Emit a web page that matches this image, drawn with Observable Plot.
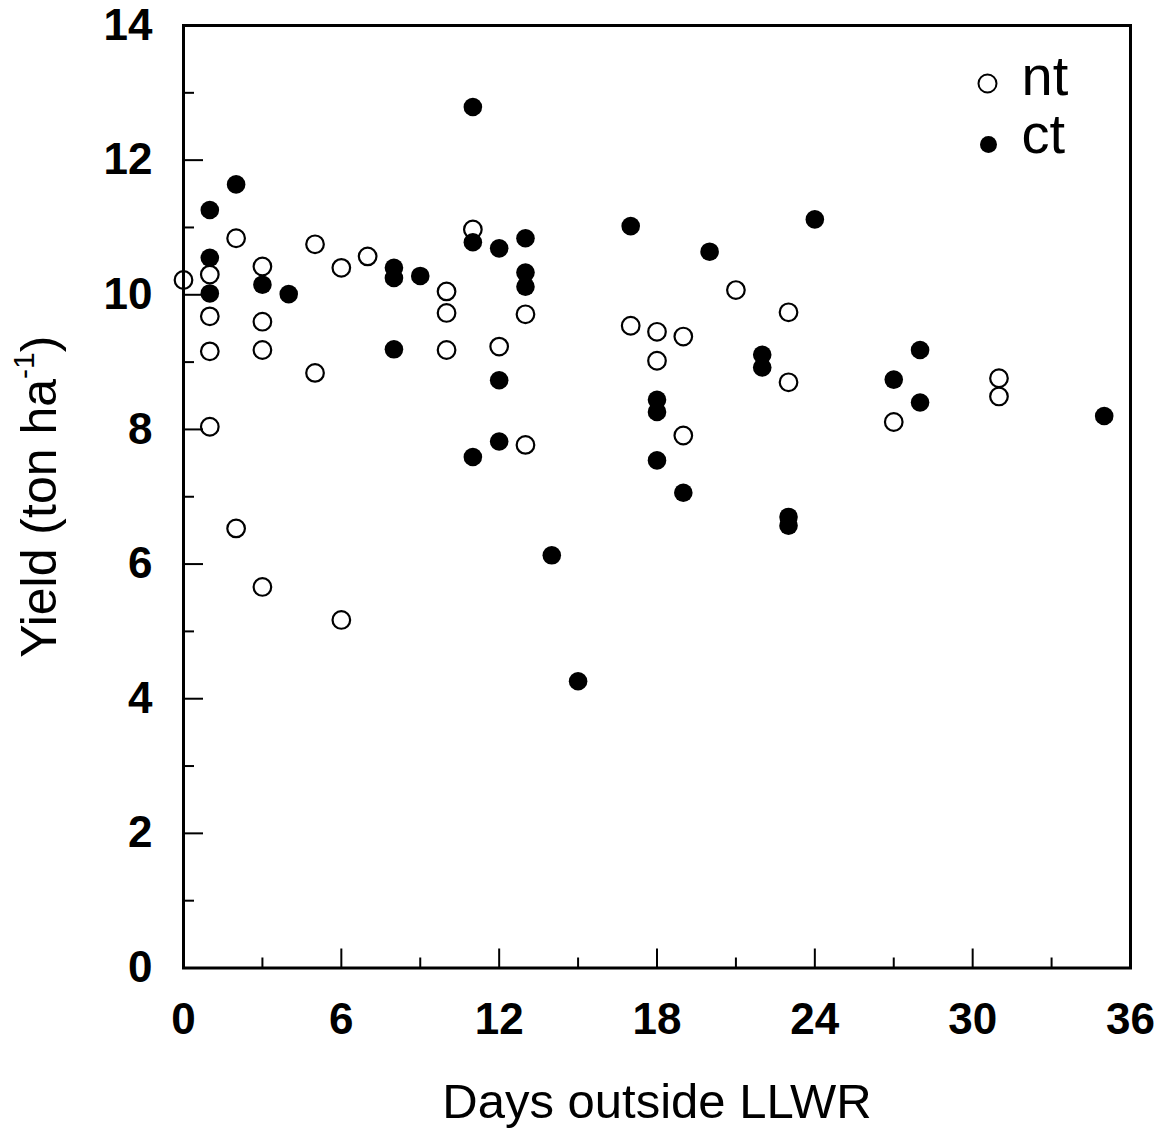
<!DOCTYPE html>
<html>
<head>
<meta charset="utf-8">
<script src="https://cdn.jsdelivr.net/npm/d3@7"></script>
<script src="https://cdn.jsdelivr.net/npm/@observablehq/plot@0.6"></script>
<style>
  html, body { margin: 0; padding: 0; background: #fff; }
  #chart svg { display: block; }
</style>
</head>
<body>
<div id="chart"></div>
<script>
// nt (no-till) — open circles
const ntDays  = [0, 1, 1, 1, 1, 2, 2, 3, 3, 3, 3, 5, 5, 6, 6, 7, 10, 10, 10, 11, 12, 13, 13, 17, 18, 18, 19, 19, 21, 23, 23, 27, 31, 31];
const ntYield = [10.22, 10.30, 9.68, 9.16, 8.04, 10.84, 6.53, 10.42, 9.60, 9.18, 5.66, 10.75, 8.84, 10.40, 5.17, 10.57, 10.05, 9.73, 9.18, 10.97, 9.23, 9.71, 7.77, 9.54, 9.45, 9.02, 9.38, 7.91, 10.07, 9.74, 8.70, 8.11, 8.76, 8.49];
// ct (conventional tillage) — filled circles
const ctDays  = [1, 1, 1, 2, 3, 4, 8, 8, 8, 9, 11, 11, 11, 12, 12, 12, 13, 13, 13, 14, 15, 17, 18, 18, 18, 19, 20, 22, 22, 23, 23, 24, 27, 28, 28, 35];
const ctYield = [11.26, 10.55, 10.02, 11.64, 10.15, 10.01, 10.40, 10.25, 9.19, 10.28, 12.79, 10.78, 7.59, 10.69, 8.73, 7.82, 10.84, 10.33, 10.12, 6.13, 4.26, 11.02, 8.44, 8.26, 7.54, 7.06, 10.64, 9.11, 8.92, 6.70, 6.57, 11.12, 8.74, 9.18, 8.40, 8.20];

const xMajorTicks = [0, 6, 12, 18, 24, 30, 36];
const xMinorTicks = [3, 9, 15, 21, 27, 33];
const yMajorTicks = [0, 2, 4, 6, 8, 10, 12, 14];
const yMinorTicks = [1, 3, 5, 7, 9, 11, 13];
const legendLabels = ["nt", "ct"];

const nt = ntDays.map((d, i) => ({days: d, yield: ntYield[i]}));
const ct = ctDays.map((d, i) => ({days: d, yield: ctYield[i]}));

const W = 1164, H = 1133;
const mL = 183, mR = 34, mT = 25, mB = 165.5;
const plotW = W - mL - mR, plotH = H - mT - mB;
const font = "'Liberation Sans', Arial, Helvetica, sans-serif";

const chart = Plot.plot({
  width: W,
  height: H,
  marginLeft: mL, marginRight: mR, marginTop: mT, marginBottom: mB,
  style: {fontFamily: font, background: "#fff", color: "#000", overflow: "visible"},
  x: {domain: [0, 36]},
  y: {domain: [0, 14]},
  marks: [
    // inward ticks
    Plot.ruleX(xMajorTicks, {x: d => d, stroke: "#000", strokeWidth: 2, insetTop: plotH - 19}),
    Plot.ruleX(xMinorTicks, {x: d => d, stroke: "#000", strokeWidth: 2, insetTop: plotH - 10}),
    Plot.ruleY(yMajorTicks, {y: d => d, stroke: "#000", strokeWidth: 2, insetRight: plotW - 20}),
    Plot.ruleY(yMinorTicks, {y: d => d, stroke: "#000", strokeWidth: 2, insetRight: plotW - 11}),
    Plot.frame({stroke: "#000", strokeWidth: 3}),
    Plot.axisX({
      ticks: xMajorTicks, tickSize: 0, tickPadding: 35,
      fontSize: 44, fontWeight: "bold", fill: "#000",
      label: "Days outside LLWR", labelAnchor: "center", labelOffset: 150, labelArrow: "none"
    }),
    Plot.axisY({
      ticks: yMajorTicks, tickSize: 0, tickPadding: 31,
      fontSize: 44, fontWeight: "bold", fill: "#000",
      label: "Yield (ton ha-1)", labelAnchor: "center", labelOffset: 163, labelArrow: "none"
    }),
    Plot.dot(nt, {x: "days", y: "yield", r: 8.8, stroke: "#000", strokeWidth: 2.2, fill: "none"}),
    Plot.dot(ct, {x: "days", y: "yield", r: 9.3, fill: "#000", stroke: "none"}),
    // legend
    Plot.dot([legendLabels[0]], {frameAnchor: "top-right", dx: -143, dy: 58, r: 9, stroke: "#000", strokeWidth: 2, fill: "none"}),
    Plot.dot([legendLabels[1]], {frameAnchor: "top-right", dx: -142, dy: 119, r: 8.5, fill: "#000"}),
    Plot.text([legendLabels[0]], {text: d => d, frameAnchor: "top-right", dx: -109, dy: 52, textAnchor: "start", lineAnchor: "middle", fontSize: 56, fill: "#000"}),
    Plot.text([legendLabels[1]], {text: d => d, frameAnchor: "top-right", dx: -109, dy: 110, textAnchor: "start", lineAnchor: "middle", fontSize: 56, fill: "#000"})
  ]
});

document.getElementById("chart").appendChild(chart);

// axis title font sizes and superscript on the y label
const svg = d3.select(chart.tagName.toLowerCase() === "svg" ? chart : chart.querySelector("svg"));
svg.selectAll('g[aria-label="x-axis label"] text').attr("font-size", 49).attr("font-weight", "normal");
svg.selectAll('g[aria-label="y-axis label"] text').attr("font-size", 50).attr("font-weight", "normal");
const yl = svg.select('g[aria-label="y-axis label"] text');
if (!yl.empty()) {
  yl.text(null);
  yl.append("tspan").text("Yield (ton ha");
  yl.append("tspan").attr("font-size", 30).attr("dy", "-0.75em").text("-1");
  yl.append("tspan").attr("dy", "0.45em").text(")");
}
</script>
</body>
</html>
